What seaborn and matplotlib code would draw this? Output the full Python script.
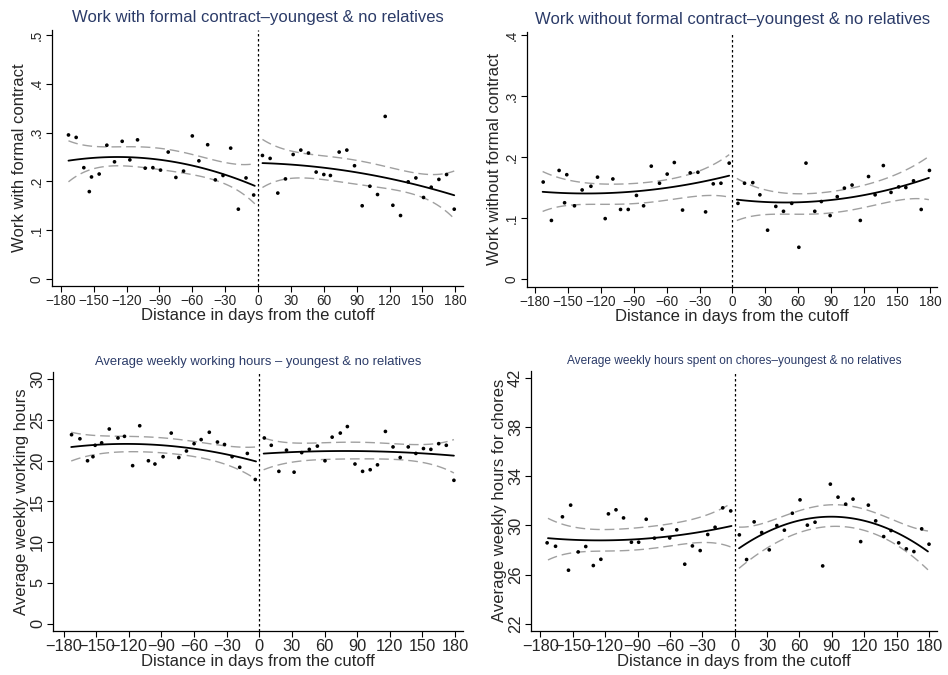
import numpy as np
import pandas as pd
import matplotlib
matplotlib.use("Agg")
import matplotlib.pyplot as plt
import seaborn as sns

# ---------------- data ----------------
# Panel 1: work with formal contract
p1_left_x = [-173, -166, -159, -152, -154, -145, -138, -131, -124, -117, -110, -103, -96,
             -89, -82, -75, -68, -60, -54, -46, -39, -32, -25, -18, -11, -4]
p1_left_y = [0.295, 0.290, 0.228, 0.209, 0.179, 0.215, 0.274, 0.240, 0.282, 0.244, 0.285,
             0.227, 0.228, 0.223, 0.260, 0.208, 0.221, 0.293, 0.242, 0.275, 0.203, 0.212,
             0.268, 0.143, 0.207, 0.172]
p1_right_x = [4, 11, 18, 25, 32, 39, 46, 53, 60, 66, 74, 81, 88, 95, 102, 109, 116, 123,
              130, 137, 144, 151, 158, 165, 172, 179]
p1_right_y = [0.253, 0.247, 0.176, 0.205, 0.255, 0.264, 0.258, 0.219, 0.214, 0.212, 0.260,
              0.264, 0.232, 0.150, 0.190, 0.173, 0.333, 0.151, 0.130, 0.199, 0.207, 0.167,
              0.188, 0.204, 0.214, 0.143]

# Panel 2: work without formal contract
p2_left_x = [-172.5, -165, -158, -151, -153, -144, -137, -129, -123, -116, -109, -102, -95,
             -87.5, -81, -74, -66.5, -59.5, -53, -45.5, -38.5, -31.5, -24.5, -17.5, -10.5, -3]
p2_left_y = [0.159, 0.096, 0.178, 0.171, 0.125, 0.120, 0.146, 0.152, 0.167, 0.099, 0.164,
             0.114, 0.114, 0.137, 0.120, 0.185, 0.157, 0.172, 0.191, 0.113, 0.174, 0.175,
             0.110, 0.156, 0.157, 0.190]
p2_right_x = [5, 11, 18.5, 25, 32, 39.5, 46.5, 54, 60.5, 67, 75, 81, 89, 95.5, 102, 109,
              116.5, 124, 130, 137.5, 144.5, 151.5, 158, 165, 172, 179.5]
p2_right_y = [0.124, 0.157, 0.158, 0.138, 0.080, 0.119, 0.111, 0.124, 0.052, 0.190, 0.111,
              0.127, 0.104, 0.135, 0.149, 0.154, 0.096, 0.168, 0.138, 0.186, 0.142, 0.151,
              0.150, 0.161, 0.114, 0.178]

# Panel 3: average weekly working hours
p3_left_x = [-172.7, -165, -158, -153, -151, -145, -138, -130, -124, -116.5, -110, -102, -96,
             -88.5, -81, -74, -67, -60, -53.5, -46, -38.5, -32, -25, -18, -11, -3.7]
p3_left_y = [23.2, 22.7, 20.0, 20.5, 21.9, 22.2, 23.9, 22.8, 23.0, 19.4, 24.3, 20.0, 19.6,
             20.5, 23.4, 20.4, 21.2, 22.1, 22.6, 23.5, 22.3, 22.0, 20.5, 19.2, 20.9, 17.7]
p3_right_x = [4.6, 11, 18, 25, 32, 39, 46, 53.4, 60.4, 67, 74.5, 81, 88, 95, 102, 108.7,
              116, 123, 129.6, 137, 144, 151, 157.8, 165, 172, 179]
p3_right_y = [22.8, 21.9, 18.7, 21.3, 18.6, 21.0, 21.4, 21.8, 20.0, 22.9, 23.4, 24.2, 19.6,
              18.7, 18.9, 19.5, 23.6, 21.7, 20.4, 21.7, 20.9, 21.5, 21.4, 22.1, 21.9, 17.6]

# Panel 4: average weekly hours for chores
p4_left_x = [-173.8, -166, -159.6, -154, -152, -145, -138, -131, -124, -117, -110, -103,
             -95.7, -89, -82, -74.4, -67.3, -60.2, -53.7, -46.3, -39.2, -32, -25, -18.2,
             -11.1, -3.7]
p4_left_y = [28.58, 28.30, 30.70, 26.35, 31.65, 27.84, 28.28, 26.73, 27.24, 30.94, 31.27,
             30.61, 28.63, 28.63, 30.50, 28.96, 29.69, 28.98, 29.64, 26.84, 28.33, 27.95,
             29.26, 29.85, 31.43, 31.18]
p4_right_x = [4.3, 11, 18, 25, 32, 39, 46, 53.4, 60.5, 67.3, 74.4, 81.5, 88.6, 95.7, 102.8,
              109.6, 116.7, 123.8, 130.6, 138, 144.8, 151.9, 159, 166, 173.2, 180]
p4_right_y = [29.23, 27.22, 30.29, 29.42, 28.01, 29.99, 29.61, 30.99, 32.08, 30.02, 30.26,
              26.70, 33.36, 32.30, 31.73, 32.14, 28.68, 31.65, 30.37, 29.09, 29.58, 28.58,
              28.09, 27.87, 29.72, 28.47]

# Fitted curves and confidence bounds (read at these x positions)
fit_left_x = [-173, -150, -120, -90, -60, -30, -3]
fit_right_x = [4, 30, 60, 90, 120, 150, 179]

p1_fitL = [0.242, 0.248, 0.250, 0.246, 0.231, 0.212, 0.192]
p1_upL = [0.283, 0.272, 0.270, 0.269, 0.254, 0.239, 0.236]
p1_loL = [0.199, 0.226, 0.231, 0.225, 0.213, 0.195, 0.154]
p1_fitR = [0.238, 0.233, 0.228, 0.220, 0.205, 0.189, 0.172]
p1_upR = [0.286, 0.262, 0.252, 0.244, 0.227, 0.216, 0.221]
p1_loR = [0.188, 0.204, 0.206, 0.194, 0.182, 0.169, 0.123]

p2_fitL = [0.143, 0.141, 0.140, 0.143, 0.150, 0.159, 0.169]
p2_upL = [0.176, 0.163, 0.155, 0.157, 0.163, 0.177, 0.204]
p2_loL = [0.111, 0.120, 0.123, 0.124, 0.128, 0.137, 0.134]
p2_fitR = [0.131, 0.126, 0.124, 0.129, 0.140, 0.150, 0.165]
p2_upR = [0.165, 0.146, 0.140, 0.143, 0.154, 0.172, 0.201]
p2_loR = [0.096, 0.105, 0.107, 0.108, 0.117, 0.129, 0.130]

p3_fitL = [21.7, 21.95, 22.05, 21.9, 21.5, 20.8, 19.9]
p3_upL = [23.5, 23.1, 23.0, 22.8, 22.4, 21.8, 21.7]
p3_loL = [20.0, 20.7, 21.2, 21.0, 20.4, 19.6, 17.7]
p3_fitR = [20.9, 21.05, 21.15, 21.2, 21.1, 20.95, 20.6]
p3_upR = [22.8, 22.2, 22.2, 22.3, 22.1, 22.0, 22.6]
p3_loR = [18.9, 19.8, 20.2, 20.2, 20.2, 19.8, 18.5]

p4_fitL = [28.93, 28.85, 28.82, 28.88, 29.09, 29.45, 29.99]
p4_upL = [30.59, 29.85, 29.70, 29.80, 30.10, 30.75, 31.81]
p4_loL = [27.19, 27.75, 27.95, 27.97, 28.35, 28.60, 28.22]
p4_fitR = [28.22, 29.36, 30.32, 30.80, 30.45, 29.36, 27.87]
p4_upR = [29.85, 30.32, 31.13, 31.73, 31.32, 30.32, 29.55]
p4_loR = [26.51, 28.14, 29.45, 29.91, 29.58, 28.41, 26.38]

x_ticks = [-180, -150, -120, -90, -60, -30, 0, 30, 60, 90, 120, 150, 180]
x_ticklabels = ["\u2212180", "\u2212150", "\u2212120", "\u221290", "\u221260", "\u221230",
                "0", "30", "60", "90", "120", "150", "180"]

titles = ["Work with formal contract\u2013youngest & no relatives",
          "Work without formal contract\u2013youngest & no relatives",
          "Average weekly working hours \u2013 youngest & no relatives",
          "Average weekly hours spent on chores\u2013youngest & no relatives"]
ylabels = ["Work with formal contract", "Work without formal contract",
           "Average weekly working hours", "Average weekly hours for chores"]
xlabel = "Distance in days from the cutoff"

y_ticks = [[0, 0.1, 0.2, 0.3, 0.4, 0.5], [0, 0.1, 0.2, 0.3, 0.4],
           [0, 5, 10, 15, 20, 25, 30], [22, 26, 30, 34, 38, 42]]
y_ticklabels = [["0", ".1", ".2", ".3", ".4", ".5"], ["0", ".1", ".2", ".3", ".4"],
                ["0", "5", "10", "15", "20", "25", "30"], ["22", "26", "30", "34", "38", "42"]]

# ---------------- style ----------------
sns.set_style("ticks")
plt.rcParams["font.family"] = ["Liberation Sans", "DejaVu Sans"]

fig = plt.figure(figsize=(9.48, 6.75), dpi=100)

title_color = "#2b3b68"

panels = [
    dict(pos=[0.0549, 0.5763, 0.4335, 0.3793], xlim=(-188, 187), ylim=(-0.0143, 0.51),
         pts=(p1_left_x, p1_left_y, p1_right_x, p1_right_y),
         fits=(p1_fitL, p1_upL, p1_loL, p1_fitR, p1_upR, p1_loR),
         tsize=12, tick=9.8, lab=12, tpad=6, lpad=2),
    dict(pos=[0.5562, 0.5753, 0.4322, 0.3773], xlim=(-187, 186.4), ylim=(-0.0126, 0.405),
         pts=(p2_left_x, p2_left_y, p2_right_x, p2_right_y),
         fits=(p2_fitL, p2_upL, p2_loL, p2_fitR, p2_upR, p2_loR),
         tsize=12, tick=9.8, lab=12, tpad=6, lpad=2),
    dict(pos=[0.0562, 0.0652, 0.4319, 0.3837], xlim=(-189.5, 187.1), ylim=(-0.9, 30.9),
         pts=(p3_left_x, p3_left_y, p3_right_x, p3_right_y),
         fits=(p3_fitL, p3_upL, p3_loL, p3_fitR, p3_upR, p3_loR),
         tsize=9.4, tick=11.8, lab=12, tpad=5, lpad=0.5),
    dict(pos=[0.5605, 0.0652, 0.4279, 0.3856], xlim=(-188.4, 187.4), ylim=(21.4, 42.6),
         pts=(p4_left_x, p4_left_y, p4_right_x, p4_right_y),
         fits=(p4_fitL, p4_upL, p4_loL, p4_fitR, p4_upR, p4_loR),
         tsize=8.6, tick=11.8, lab=12, tpad=5, lpad=0.5),
]

ci_kws = dict(color="#a0a0a0", linewidth=1.0, linestyle=(0, (7, 3.5)))
fit_kws = dict(color="black", linewidth=1.3)

for i, p in enumerate(panels):
    ax = fig.add_axes(p["pos"])
    lx, ly, rx, ry = p["pts"]
    pts = pd.DataFrame({"x": list(lx) + list(rx), "y": list(ly) + list(ry)})
    fL, uL, loL, fR, uR, loR = p["fits"]

    # confidence bounds (grey dashed), smoothed through the read values
    for xs, ys in [(fit_left_x, uL), (fit_left_x, loL), (fit_right_x, uR), (fit_right_x, loR)]:
        sns.regplot(x=np.array(xs, float), y=np.array(ys, float), ax=ax, order=4, ci=None,
                    scatter=False, line_kws=ci_kws)
    # fitted quadratic lines (black solid)
    for xs, ys in [(fit_left_x, fL), (fit_right_x, fR)]:
        sns.regplot(x=np.array(xs, float), y=np.array(ys, float), ax=ax, order=2, ci=None,
                    scatter=False, line_kws=fit_kws)
    # binned means
    sns.scatterplot(data=pts, x="x", y="y", ax=ax, color="black", s=7,
                    edgecolor="none", linewidth=0, zorder=5)
    # cutoff line
    ax.axvline(0, color="black", linewidth=0.9, linestyle=(0, (2, 2)))

    ax.set_xlim(*p["xlim"])
    ax.set_ylim(*p["ylim"])
    ax.set_xticks(x_ticks)
    ax.set_xticklabels(x_ticklabels, fontsize=p["tick"])
    ax.set_yticks(y_ticks[i])
    ax.set_yticklabels(y_ticklabels[i], fontsize=p["tick"], rotation=90, va="center")
    ax.tick_params(axis="both", direction="out", length=4, width=0.8, color="black", pad=2)
    for s in ["top", "right"]:
        ax.spines[s].set_visible(False)
    for s in ["left", "bottom"]:
        ax.spines[s].set_linewidth(0.9)
        ax.spines[s].set_color("black")
    ax.set_xlabel(xlabel, fontsize=p["lab"], labelpad=0)
    ax.set_ylabel(ylabels[i], fontsize=p["lab"], labelpad=p["lpad"])
    ax.set_title(titles[i], fontsize=p["tsize"], color=title_color, pad=p["tpad"])

fig.savefig("out.png", dpi=100, facecolor="white")
